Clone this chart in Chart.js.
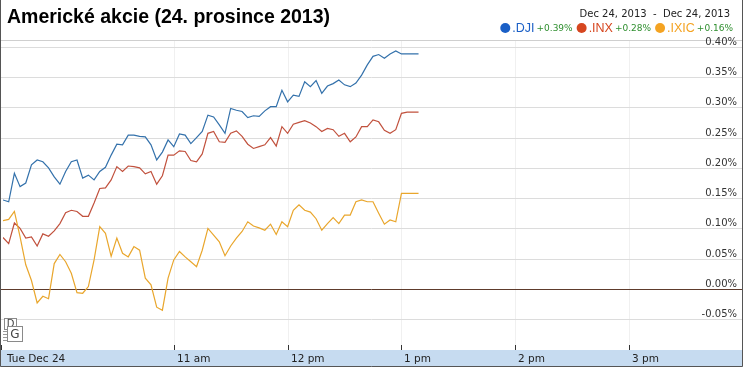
<!DOCTYPE html>
<html>
<head>
<meta charset="utf-8">
<script src="https://cdn.jsdelivr.net/npm/chart.js@4"></script>
<style>
  html, body { margin: 0; padding: 0; background: #fff; }
  #wrap { width: 743px; height: 367px; position: relative; }
</style>
</head>
<body>
<div id="wrap"><canvas id="stockChart" width="743" height="367"></canvas></div>
<script>
// Minutes since market open (9:30)
const minutes = [0,3,6,9,12,15,18,21,24,27,30,33,36,39,42,45,48,51,54,57,60,63,66,69,72,75,78,81,84,87,90,93,96,99,102,105,108,111,114,117,120,123,126,129,132,135,138,141,144,147,150,153,156,159,162,165,168,171,174,177,180,183,186,189,192,195,198,201,204,207,210,213,216,219];

// Percent change series
const dji = [0.147,0.144,0.191,0.169,0.175,0.205,0.213,0.210,0.200,0.185,0.173,0.194,0.210,0.213,0.183,0.188,0.180,0.194,0.201,0.221,0.239,0.238,0.254,0.254,0.252,0.251,0.238,0.213,0.226,0.246,0.235,0.256,0.254,0.240,0.250,0.260,0.287,0.284,0.271,0.257,0.298,0.295,0.293,0.283,0.286,0.285,0.294,0.301,0.301,0.328,0.309,0.320,0.318,0.342,0.334,0.344,0.323,0.335,0.339,0.345,0.337,0.334,0.340,0.353,0.370,0.384,0.387,0.381,0.388,0.393,0.388,0.388,0.388,0.388];
const inx = [0.085,0.075,0.109,0.100,0.084,0.086,0.071,0.091,0.087,0.096,0.108,0.126,0.130,0.128,0.120,0.120,0.142,0.166,0.167,0.180,0.202,0.194,0.203,0.202,0.200,0.190,0.194,0.173,0.187,0.221,0.221,0.228,0.227,0.212,0.210,0.223,0.257,0.260,0.243,0.242,0.257,0.261,0.252,0.239,0.232,0.235,0.238,0.250,0.236,0.268,0.257,0.272,0.275,0.278,0.274,0.268,0.260,0.265,0.263,0.252,0.257,0.243,0.251,0.268,0.268,0.279,0.276,0.262,0.257,0.263,0.290,0.292,0.292,0.292];
const ixic = [0.113,0.115,0.128,0.086,0.040,0.014,-0.023,-0.012,-0.016,0.042,0.057,0.045,0.026,-0.006,-0.007,0.004,0.048,0.103,0.092,0.054,0.084,0.059,0.053,0.070,0.064,0.018,0.007,-0.030,-0.035,0.018,0.048,0.062,0.053,0.045,0.037,0.064,0.100,0.089,0.078,0.055,0.071,0.084,0.095,0.111,0.104,0.101,0.097,0.107,0.090,0.111,0.103,0.130,0.139,0.130,0.127,0.116,0.097,0.108,0.118,0.108,0.122,0.122,0.144,0.147,0.144,0.144,0.125,0.107,0.114,0.111,0.158,0.158,0.158,0.158];

// Axis labels
const yTicks = [-0.05,0,0.05,0.10,0.15,0.20,0.25,0.30,0.35,0.40];
const xTickMinutes = [0,90,150,210,270,330];
const xTickLabels = ['Tue Dec 24','11 am','12 pm','1 pm','2 pm','3 pm'];

// Legend
const symbols = ['.DJI','.INX','.IXIC'];
const changes = ['+0.39%','+0.28%','+0.16%'];
const lineColors = ['#3371ab','#c1513d','#e9a62c'];
const dotColors = ['#1a5fc6','#d6461f','#f4a322'];

const titleText = 'Americké akcie (24. prosince 2013)';
const rangeText = 'Dec 24, 2013  -  Dec 24, 2013';

function toPoints(arr) {
  return minutes.map((m, i) => ({ x: m, y: arr[i] }));
}

const framePlugin = {
  id: 'frame',
  beforeDraw(chart) {
    const { ctx, chartArea, scales } = chart;
    const x = scales.x, y = scales.y;
    ctx.save();
    ctx.fillStyle = '#fff';
    ctx.fillRect(0, 0, chart.width, chart.height);

    // vertical hour lines
    ctx.strokeStyle = '#f0f0f0';
    ctx.lineWidth = 1;
    xTickMinutes.slice(1).forEach(m => {
      const px = Math.round(x.getPixelForValue(m)) + 0.5;
      ctx.beginPath();
      ctx.moveTo(px, chartArea.top);
      ctx.lineTo(px, chartArea.bottom);
      ctx.stroke();
    });

    // top border of plot
    ctx.strokeStyle = '#cfcfcf';
    ctx.beginPath();
    ctx.moveTo(0, chartArea.top + 0.5);
    ctx.lineTo(chart.width, chartArea.top + 0.5);
    ctx.stroke();

    // horizontal grid
    yTicks.forEach(v => {
      const py = Math.round(y.getPixelForValue(v)) + 0.5;
      ctx.strokeStyle = v === 0 ? '#5e3b2c' : '#dcdcdc';
      ctx.beginPath();
      ctx.moveTo(0, py);
      ctx.lineTo(chart.width, py);
      ctx.stroke();
    });
    ctx.restore();
  },
  afterDraw(chart) {
    const { ctx, chartArea, scales } = chart;
    const x = scales.x, y = scales.y;
    ctx.save();

    // y labels inside plot, right side
    ctx.font = '10px "DejaVu Sans"';
    ctx.fillStyle = '#333';
    ctx.textAlign = 'right';
    ctx.textBaseline = 'alphabetic';
    yTicks.forEach(v => {
      const py = Math.round(y.getPixelForValue(v));
      ctx.fillText(v.toFixed(2) + '%', 737, py - 2);
    });

    // bottom band
    const bandTop = chartArea.bottom + 1;
    ctx.fillStyle = '#c6dbf0';
    ctx.fillRect(0, bandTop, chart.width, chart.height - bandTop);

    // tick marks and x labels
    ctx.textAlign = 'left';
    ctx.textBaseline = 'middle';
    ctx.font = '10.5px "DejaVu Sans"';
    xTickMinutes.forEach((m, i) => {
      const px = Math.round(x.getPixelForValue(m));
      ctx.fillStyle = '#333';
      ctx.fillRect(i === 0 ? 1 : px, bandTop - 5, 1, 5);
      ctx.fillStyle = '#222';
      ctx.fillText(xTickLabels[i], (i === 0 ? 4 : px) + 3, bandTop + 9);
    });

    // title
    ctx.fillStyle = '#000';
    ctx.font = 'bold 19.5px "Liberation Sans", Arial';
    ctx.textAlign = 'left';
    ctx.textBaseline = 'alphabetic';
    ctx.fillText(titleText, 7, 23);

    // date range
    ctx.font = '10px "DejaVu Sans"';
    ctx.fillStyle = '#222';
    ctx.textAlign = 'right';
    ctx.fillText(rangeText, 730, 17);

    // legend, laid out right to left
    const nameFont = '12.5px "Liberation Sans", Arial';
    const chgFont = '9px "DejaVu Sans"';
    const items = symbols.map((s, i) => {
      ctx.font = nameFont;
      const wn = ctx.measureText(s).width;
      ctx.font = chgFont;
      const wc = ctx.measureText(changes[i]).width;
      return { s, c: changes[i], wn, wc, w: 10 + 2 + wn + 2 + wc };
    });
    const gap = 4;
    const total = items.reduce((a, it) => a + it.w, 0) + gap * (items.length - 1);
    let lx = 733 - total;
    const ly = 28;
    items.forEach((it, i) => {
      ctx.fillStyle = dotColors[i];
      ctx.beginPath();
      ctx.arc(lx + 5, ly, 5, 0, Math.PI * 2);
      ctx.fill();
      lx += 12;
      ctx.font = nameFont;
      ctx.textAlign = 'left';
      ctx.textBaseline = 'middle';
      ctx.fillText(it.s, lx, ly + 1);
      lx += it.wn + 2;
      ctx.font = chgFont;
      ctx.fillStyle = '#2f8f2f';
      ctx.fillText(it.c, lx, ly + 1);
      lx += it.wc + gap;
    });

    // D / G flag markers
    ctx.lineWidth = 1;
    ctx.strokeStyle = '#8a8a8a';
    ctx.fillStyle = '#fff';
    ctx.fillRect(4.5, 318.5, 12, 11);
    ctx.strokeRect(4.5, 318.5, 12, 11);
    ctx.fillStyle = '#444';
    ctx.font = '10px "DejaVu Sans"';
    ctx.textAlign = 'center';
    ctx.textBaseline = 'middle';
    ctx.fillText('D', 10.5, 324);
    ctx.strokeStyle = '#999';
    for (let k = 0; k < 4; k++) {
      ctx.beginPath();
      ctx.moveTo(3, 331.5 + k * 3);
      ctx.lineTo(8, 331.5 + k * 3);
      ctx.stroke();
    }
    ctx.fillStyle = '#fff';
    ctx.strokeStyle = '#8a8a8a';
    ctx.fillRect(7.5, 326.5, 15, 15);
    ctx.strokeRect(7.5, 326.5, 15, 15);
    ctx.fillStyle = '#444';
    ctx.font = '12px "DejaVu Sans"';
    ctx.fillText('G', 15, 334.5);

    // outer frame
    ctx.strokeStyle = '#555';
    ctx.beginPath();
    ctx.moveTo(0.5, 0);
    ctx.lineTo(0.5, chart.height - 0.5);
    ctx.lineTo(chart.width - 0.5, chart.height - 0.5);
    ctx.lineTo(chart.width - 0.5, 0);
    ctx.stroke();
    ctx.restore();
  }
};

new Chart(document.getElementById('stockChart'), {
  type: 'line',
  data: {
    datasets: [
      { label: '.IXIC', data: toPoints(ixic), borderColor: lineColors[2] },
      { label: '.INX', data: toPoints(inx), borderColor: lineColors[1] },
      { label: '.DJI', data: toPoints(dji), borderColor: lineColors[0] }
    ].map(d => Object.assign(d, { borderWidth: 1.2, pointRadius: 0, tension: 0, fill: false }))
  },
  options: {
    responsive: false,
    animation: false,
    devicePixelRatio: 1,
    layout: { padding: { left: 3, right: 0, top: 40, bottom: 18 } },
    plugins: { legend: { display: false }, tooltip: { enabled: false } },
    scales: {
      x: { type: 'linear', min: 0, max: 390, display: false },
      y: { type: 'linear', min: -0.099, max: 0.411, display: false }
    }
  },
  plugins: [framePlugin]
});
</script>
</body>
</html>
